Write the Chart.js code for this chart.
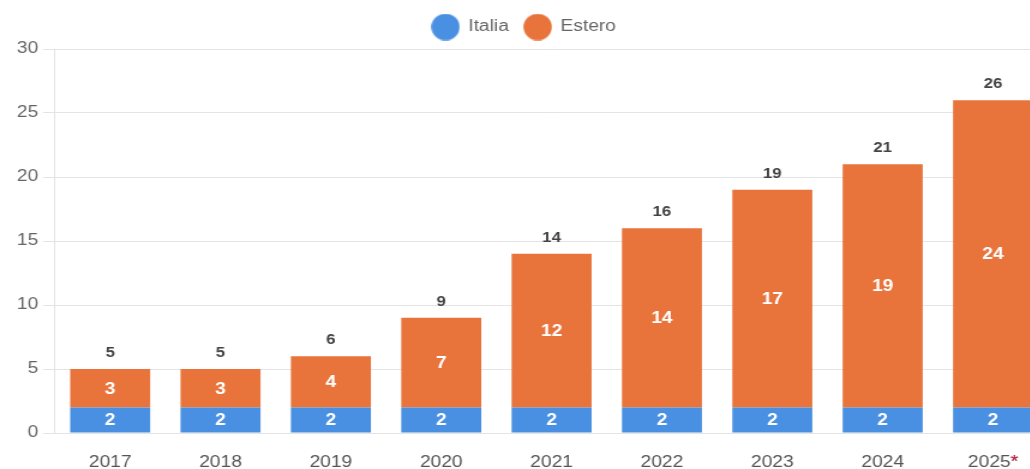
<!DOCTYPE html>
<html>
<head>
<meta charset="utf-8">
<script src="https://cdn.jsdelivr.net/npm/chart.js@4.4.1/dist/chart.umd.min.js"></script>
<style>
html, body { margin: 0; padding: 0; background: #fff; overflow: hidden; width: 1030px; height: 469px; }
/* the source picture is stretched sideways, so draw narrow and widen */
#wrap { position: relative; width: 875px; height: 469px; transform: scaleX(1.2); transform-origin: 0 0; }
</style>
</head>
<body>
<div id="wrap"><canvas id="chart"></canvas></div>
<script>
// data
const years = ["2017", "2018", "2019", "2020", "2021", "2022", "2023", "2024", "2025*"];
const italia = [2, 2, 2, 2, 2, 2, 2, 2, 2];
const estero = [3, 3, 4, 7, 12, 14, 17, 19, 24];
const yMax = 30;
const yStep = 5;

const BLUE = "#4a90e2";
const ORANGE = "#e8743b";

Chart.defaults.font.family = '"Liberation Sans", Arial, Helvetica, sans-serif';

// legend markers (a touch narrow, they get widened with the page)
function dot(color) {
    const c = document.createElement("canvas");
    c.width = 24;
    c.height = 27;
    const g = c.getContext("2d");
    g.fillStyle = color;
    g.beginPath();
    g.ellipse(12, 13.5, 11.8, 13.3, 0, 0, Math.PI * 2);
    g.fill();
    return c;
}
const dots = [dot(BLUE), dot(ORANGE)];

// a bit more room under the legend
const legendGap = {
    id: "legendGap",
    beforeUpdate(chart) {
        const lg = chart.legend;
        if (!lg || lg._gapPatched) return;
        const fit = lg.fit;
        lg.fit = function () {
            fit.call(this);
            this.height += 4;
        };
        lg._gapPatched = true;
    },
};

// numbers inside each segment + total above the stack
const valueLabels = {
    id: "valueLabels",
    afterDatasetsDraw(chart) {
        const ctx = chart.ctx;
        ctx.save();
        ctx.textAlign = "center";
        ctx.textBaseline = "middle";
        ctx.font = 'bold 16px "Liberation Sans", Arial, sans-serif';
        ctx.fillStyle = "#fff";
        chart.data.datasets.forEach((ds, di) => {
            chart.getDatasetMeta(di).data.forEach((bar, i) => {
                ctx.fillText(ds.data[i], bar.x, (bar.y + bar.base) / 2 + 1);
            });
        });
        const top = chart.getDatasetMeta(chart.data.datasets.length - 1);
        ctx.font = 'bold 14px "Liberation Sans", Arial, sans-serif';
        ctx.fillStyle = "#444";
        top.data.forEach((bar, i) => {
            ctx.fillText(italia[i] + estero[i], bar.x, bar.y - 16);
        });
        ctx.restore();
    },
};

// the asterisk on the last year is red
const redStar = {
    id: "redStar",
    afterDraw(chart) {
        const items = chart.scales.x.getLabelItems();
        const it = items[items.length - 1];
        if (!it || !String(it.label).endsWith("*")) return;
        const ctx = chart.ctx;
        const [tx, ty] = it.options.translation;
        ctx.save();
        ctx.font = it.font.string;
        const full = ctx.measureText(it.label).width;
        const star = ctx.measureText("*").width;
        ctx.textAlign = "left";
        ctx.textBaseline = it.options.textBaseline;
        ctx.fillStyle = "#c0304a";
        ctx.fillText("*", tx + full / 2 - star, ty + it.textOffset);
        ctx.fillText("*", tx + full / 2 - star, ty + it.textOffset);
        ctx.restore();
    },
};

new Chart(document.getElementById("chart"), {
    type: "bar",
    data: {
        labels: years,
        datasets: [
            { label: "Italia", data: italia, backgroundColor: BLUE },
            { label: "Estero", data: estero, backgroundColor: ORANGE },
        ],
    },
    options: {
        responsive: true,
        maintainAspectRatio: false,
        animation: false,
        devicePixelRatio: 1,
        categoryPercentage: 1,
        barPercentage: 0.725,
        layout: { padding: { top: 6, right: 1.5, left: 0, bottom: 0 } },
        plugins: {
            tooltip: { enabled: false },
            legend: {
                position: "top",
                labels: {
                    usePointStyle: true,
                    pointStyleWidth: 22,
                    color: "#666",
                    font: { size: 16 },
                    padding: 13,
                    generateLabels(chart) {
                        const items = Chart.defaults.plugins.legend.labels.generateLabels(chart);
                        items.forEach((it, i) => {
                            it.pointStyle = dots[i];
                            it.lineWidth = 0;
                        });
                        return items;
                    },
                },
            },
        },
        scales: {
            x: {
                stacked: true,
                grid: { display: false, drawTicks: false },
                border: { display: false },
                ticks: { color: "#555", font: { size: 16 }, padding: 20 },
                afterFit(s) { s.height = 36; },
            },
            y: {
                stacked: true,
                min: 0,
                max: yMax,
                ticks: { stepSize: yStep, color: "#666", font: { size: 16 }, padding: 4 },
                grid: { color: "#e4e4e4", tickLength: 10 },
                border: { color: "#e4e4e4" },
                afterFit(s) { s.width = 45.8; },
            },
        },
    },
    plugins: [legendGap, valueLabels, redStar],
});
</script>
</body>
</html>
